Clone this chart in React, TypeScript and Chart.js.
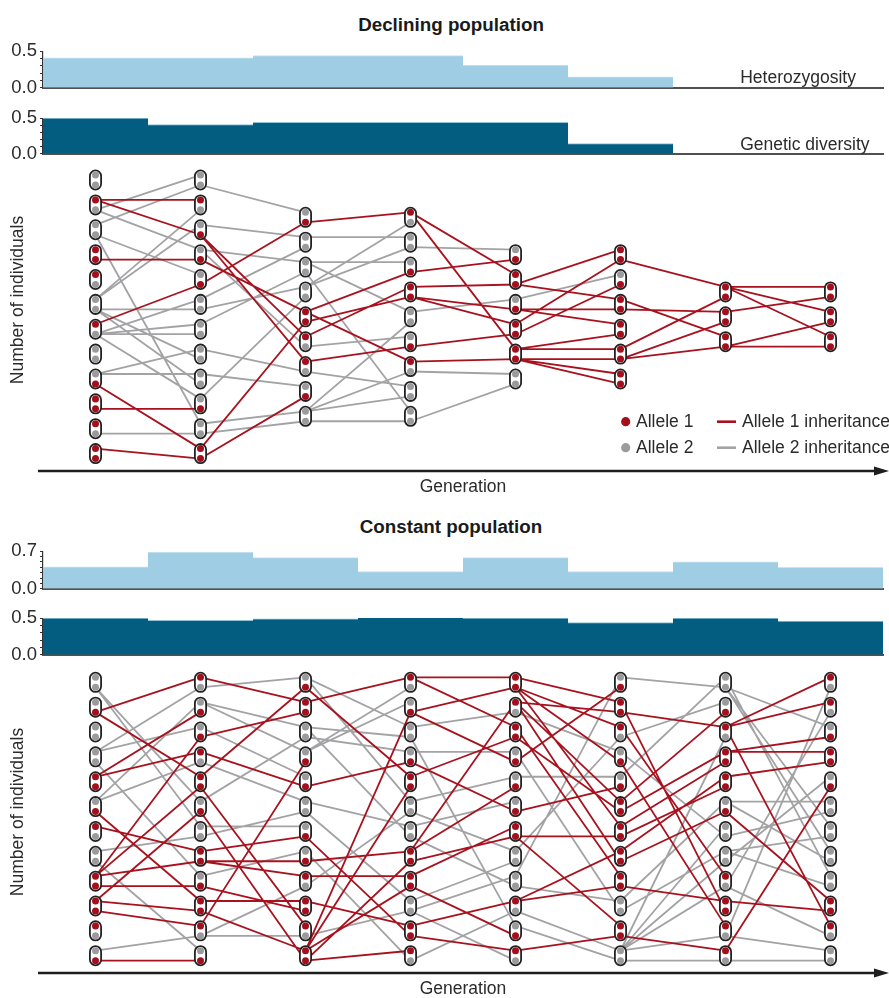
import React, { useEffect, useRef } from "react";
import { Chart, registerables } from "chart.js";

Chart.register(...registerables);

const FONT = '"Liberation Sans", Arial, Helvetica, sans-serif';
const TEXT = "#2b2b2b";
const RED = "#a30f1c";
const GREY = "#9b9b9d";
const LINE_RED = "#a8121e";
const LINE_GREY = "#a3a3a5";
const LIGHT_BLUE = "#9fcde4";
const LIGHT_EDGE = "#c6e3f1";
const DARK_BLUE = "#025d80";
const DARK_EDGE = "#8fc4db";

// ---------- data ----------
const GENERATIONS = [1, 2, 3, 4, 5, 6, 7, 8];
const PANEL_TITLES = ["Declining population", "Constant population"];
const SERIES_LABELS = ["Heterozygosity", "Genetic diversity"];
const Y_TITLE = "Number of individuals";
const X_TITLE = "Generation";
const LEGEND_LABELS = ["Allele 1", "Allele 2", "Allele 1 inheritance", "Allele 2 inheritance"];

const DECLINE_HET = [0.41, 0.41, 0.44, 0.44, 0.31, 0.15];
const DECLINE_DIV = [0.5, 0.41, 0.44, 0.44, 0.44, 0.145];
const CONST_HET = [0.41, 0.68, 0.58, 0.32, 0.58, 0.32, 0.5, 0.4];
const CONST_DIV = [0.5, 0.47, 0.49, 0.52, 0.5, 0.44, 0.5, 0.46];

const DECLINE_HET_TICKS = [0, 0.5];
const DECLINE_DIV_TICKS = [0, 0.5];
const CONST_HET_TICKS = [0, 0.7];
const CONST_DIV_TICKS = [0, 0.5];

// genotypes per generation: top allele, bottom allele ("1" = allele 1, "2" = allele 2)
const DECLINE_INDIVIDUALS = [
  ["22", "12", "22", "11", "12", "22", "12", "22", "21", "11", "12", "11"],
  ["22", "12", "21", "21", "21", "22", "22", "22", "22", "21", "22", "11"],
  ["21", "22", "22", "22", "11", "12", "12", "21", "22"],
  ["12", "22", "21", "11", "22", "21", "12", "22", "22"],
  ["21", "11", "21", "11", "11", "22"],
  ["11", "21", "11", "11", "11", "11"],
  ["11", "11", "11"],
  ["11", "11", "11"],
];
const DECLINE_ROW_START = [0, 0, 1.5, 1.5, 3, 3, 4.5, 4.5];
// for every allele of the next generation (pill 1 top, pill 1 bottom, ...): parent pill + t/b
const DECLINE_PARENTS = [
  ["2b", "3t", "2t", "6t", "6t", "2t", "2b", "4b", "3b", "7t", "7b", "6b", "7b", "7b", "9t", "6b", "9t", "6b", "7b", "10b", "3b", "11b", "9b", "12t"],
  ["1b", "5b", "3t", "6t", "4t", "7t", "6b", "10t", "4b", "12t", "3b", "4t", "3b", "8t", "9t", "12b", "11t", "11b"],
  ["1b", "4t", "2t", "4t", "3t", "5t", "6t", "5b", "3t", "9t", "6b", "7t", "5t", "9t", "7b", "9t", "3b", "9b"],
  ["2b", "3b", "1t", "4t", "5t", "4b", "4b", "6b", "1t", "7t", "7b", "9b"],
  ["2b", "4t", "3t", "4b", "2b", "3b", "3b", "5t", "5t", "5b", "5b", "5b"],
  ["1b", "5t", "3b", "5b", "3t", "5b"],
  ["1t", "2t", "1t", "3b", "1t", "3b"],
];

const CONST_INDIVIDUALS = [
  ["22", "21", "22", "22", "11", "21", "12", "22", "11", "11", "12", "21"],
  ["12", "21", "21", "12", "11", "21", "22", "11", "21", "11", "12", "21"],
  ["21", "11", "22", "21", "21", "22", "21", "21", "12", "11", "12", "11"],
  ["12", "21", "22", "21", "11", "22", "22", "11", "11", "22", "11", "12"],
  ["11", "12", "11", "21", "21", "21", "11", "22", "22", "12", "21", "12"],
  ["21", "11", "12", "21", "21", "11", "11", "11", "11", "22", "11", "22"],
  ["22", "21", "12", "11", "11", "21", "22", "22", "12", "11", "12", "12"],
  ["12", "12", "21", "11", "21", "22", "22", "22", "22", "11", "12", "22"],
];
const CONST_ROW_START = [0, 0, 0, 0, 0, 0, 0, 0];
const CONST_PARENTS = [
  ["2b", "4t", "6t", "5t", "4t", "9t", "5t", "6t", "2b", "9t", "1b", "10t", "1b", "8t", "7t", "9t", "4b", "9b", "6b", "10t", "10b", "12t", "8b", "12b"],
  ["1b", "5t", "1t", "3b", "2t", "6t", "2t", "11t", "3t", "4t", "4b", "7b", "7t", "8t", "9t", "8b", "8b", "11b", "10t", "9b", "5b", "11b", "10b", "6b"],
  ["2t", "4t", "4t", "12t", "1t", "3t", "3b", "5b", "1b", "12t", "1t", "9b", "6t", "3t", "8b", "12b", "9t", "12t", "6b", "11b", "10t", "7b", "12b", "8t"],
  ["1t", "2b", "8t", "3t", "1t", "5t", "4t", "2b", "6t", "8t", "7t", "4b", "9t", "8b", "6b", "10t", "10b", "7b", "11t", "12b", "3b", "9b", "11b", "10b"],
  ["9t", "4b", "1t", "2t", "1b", "8t", "2b", "1b", "5t", "6b", "2t", "3b", "1b", "7b", "10t", "2t", "3t", "10t", "9b", "4t", "7b", "12t", "10b", "11t"],
  ["5t", "1t", "3b", "6t", "2b", "12t", "6b", "7t", "8t", "7b", "10t", "8b", "12t", "4t", "10b", "12t", "3t", "12t", "9b", "2t", "4b", "12t", "11b", "12b"],
  ["3t", "11b", "3t", "9b", "1b", "4t", "4t", "5t", "8b", "12t", "6t", "7b", "1b", "8t", "1b", "6t", "1t", "8t", "6b", "10t", "3t", "9b", "11b", "12b"],
];

// ---------- helpers ----------
const W = 889;
const DOT_OFF = 0.2;
const PILL_HALF = 0.161;

type Pt = { x: number; y: number | null };

function ChartBox({ top, height, make }: { top: number; height: number; make: () => any }) {
  const ref = useRef<HTMLCanvasElement | null>(null);
  useEffect(() => {
    if (!ref.current) return;
    const chart = new Chart(ref.current, make());
    return () => chart.destroy();
  }, []);
  return (
    <canvas
      ref={ref}
      width={W}
      height={height}
      style={{ position: "absolute", left: 0, top, width: W, height, display: "block" }}
    />
  );
}

function barConfig(values: number[], ticks: number[], fill: string, edge: string, label: string | null, labelDy: number) {
  const max = ticks[ticks.length - 1];
  return {
    type: "bar",
    data: {
      datasets: [
        {
          data: values.map((v, i) => ({ x: GENERATIONS[i], y: v })),
          backgroundColor: fill,
          borderColor: edge,
          borderWidth: { top: 1, right: 0, bottom: 0, left: 0 },
          borderSkipped: "bottom",
          barPercentage: 1,
          categoryPercentage: 1,
        },
      ],
    },
    options: {
      responsive: false,
      animation: false,
      devicePixelRatio: 1,
      events: [],
      layout: { padding: { top: 12, bottom: 12, left: 0, right: 6 } },
      plugins: { legend: { display: false }, tooltip: { enabled: false }, title: { display: false } },
      scales: {
        x: {
          type: "linear",
          min: 0.5,
          max: 8.5,
          offset: false,
          afterBuildTicks: (s: any) => {
            s.ticks = GENERATIONS.map((v) => ({ value: v }));
          },
          afterFit: (s: any) => {
            s.height = 0;
          },
          ticks: { display: false },
          grid: { display: false, drawTicks: false },
          border: { display: true, color: "#505050", width: 2 },
        },
        y: {
          min: 0,
          max,
          afterFit: (s: any) => {
            s.width = 43;
          },
          ticks: {
            stepSize: 0.1,
            autoSkip: false,
            padding: 3,
            color: TEXT,
            font: { family: FONT, size: 18.5 },
            callback: (v: any) => (ticks.some((t) => Math.abs(t - Number(v)) < 1e-6) ? Number(v).toFixed(1) : ""),
          },
          grid: { display: true, drawOnChartArea: false, drawTicks: true, tickLength: 3, color: "#333", lineWidth: 1 },
          border: { display: true, color: "#333", width: 1.2 },
        },
      },
    },
    plugins: [
      {
        id: "seriesLabel",
        afterDraw(chart: any) {
          if (!label) return;
          const ctx = chart.ctx;
          ctx.save();
          ctx.font = `17.5px ${FONT}`;
          ctx.fillStyle = TEXT;
          ctx.textAlign = "left";
          ctx.textBaseline = "middle";
          ctx.fillText(label, chart.scales.x.getPixelForValue(7.14), chart.chartArea.bottom + labelDy);
          ctx.restore();
        },
      },
    ],
  };
}

function alleleY(start: number, pill: number, side: number) {
  return start + pill + (side ? DOT_OFF : -DOT_OFF);
}

function networkConfig(
  individuals: string[][],
  rowStart: number[],
  parents: string[][],
  o: { padTop: number; xAxisHeight: number; xTitlePad: number; yTitleY: number; legend: boolean }
) {
  const dots: Pt[] = [];
  const dotColors: string[] = [];
  const pills: Pt[] = [];
  const redLinks: Pt[] = [];
  const greyLinks: Pt[] = [];

  individuals.forEach((col, gi) => {
    const x = GENERATIONS[gi];
    col.forEach((geno, pi) => {
      const r = rowStart[gi] + pi;
      pills.push({ x, y: r - PILL_HALF }, { x, y: r + PILL_HALF }, { x, y: null });
      [0, 1].forEach((side) => {
        dots.push({ x, y: alleleY(rowStart[gi], pi, side) });
        dotColors.push(geno[side] === "1" ? RED : GREY);
      });
    });
  });

  parents.forEach((gap, gi) => {
    gap.forEach((ref, di) => {
      const childPill = Math.floor(di / 2);
      const childSide = di % 2;
      const parentPill = parseInt(ref, 10) - 1;
      const parentSide = ref.endsWith("b") ? 1 : 0;
      const allele = individuals[gi + 1][childPill][childSide];
      const seg: Pt[] = [
        { x: GENERATIONS[gi], y: alleleY(rowStart[gi], parentPill, parentSide) },
        { x: GENERATIONS[gi + 1], y: alleleY(rowStart[gi + 1], childPill, childSide) },
        { x: GENERATIONS[gi + 1], y: null },
      ];
      (allele === "1" ? redLinks : greyLinks).push(...seg);
    });
  });

  const base = { pointRadius: 0, pointHoverRadius: 0, clip: false, spanGaps: false, tension: 0, fill: false };

  return {
    type: "line",
    data: {
      datasets: [
        {
          data: dots,
          showLine: false,
          pointRadius: 3.5,
          pointHoverRadius: 3.5,
          pointBackgroundColor: dotColors,
          pointBorderWidth: 0,
          pointBorderColor: "rgba(0,0,0,0)",
          clip: false,
          order: 0,
        },
        { ...base, data: pills, borderColor: "#ffffff", borderWidth: 9.4, borderCapStyle: "round", order: 1 },
        { ...base, data: pills, borderColor: "#222222", borderWidth: 13, borderCapStyle: "round", order: 2 },
        { ...base, data: redLinks, borderColor: LINE_RED, borderWidth: 1.8, order: 3 },
        { ...base, data: greyLinks, borderColor: LINE_GREY, borderWidth: 1.8, order: 4 },
      ],
    },
    options: {
      responsive: false,
      animation: false,
      devicePixelRatio: 1,
      events: [],
      layout: { padding: { top: o.padTop, bottom: 0, left: 0, right: 6 } },
      plugins: { legend: { display: false }, tooltip: { enabled: false }, title: { display: false } },
      scales: {
        x: {
          type: "linear",
          min: 0.5,
          max: 8.5,
          afterFit: (s: any) => {
            s.height = o.xAxisHeight;
          },
          ticks: { display: false },
          grid: { display: false },
          border: { display: false },
          title: {
            display: true,
            text: X_TITLE,
            color: TEXT,
            font: { family: FONT, size: 17.5, lineHeight: 1 },
            padding: { top: 0, bottom: o.xTitlePad },
          },
        },
        y: {
          type: "linear",
          reverse: true,
          min: -0.6,
          max: 11.7,
          afterFit: (s: any) => {
            s.width = 43;
          },
          ticks: { display: false },
          grid: { display: false },
          border: { display: false },
        },
      },
    },
    plugins: [
      {
        id: "networkDecor",
        afterDraw(chart: any) {
          const ctx = chart.ctx;
          const a = chart.chartArea;
          const y = a.bottom;
          ctx.save();
          ctx.strokeStyle = "#1e1e1e";
          ctx.fillStyle = "#1e1e1e";
          ctx.lineWidth = 2.5;
          ctx.beginPath();
          ctx.moveTo(38, y);
          ctx.lineTo(878, y);
          ctx.stroke();
          ctx.beginPath();
          ctx.moveTo(889, y);
          ctx.lineTo(874, y - 4.5);
          ctx.lineTo(874, y + 4.5);
          ctx.closePath();
          ctx.fill();

          ctx.save();
          ctx.translate(18, o.yTitleY);
          ctx.rotate(-Math.PI / 2);
          ctx.font = `17.5px ${FONT}`;
          ctx.fillStyle = TEXT;
          ctx.textAlign = "center";
          ctx.textBaseline = "middle";
          ctx.fillText(Y_TITLE, 0, 0);
          ctx.restore();

          if (o.legend) {
            const rows = [261.7, 287.7];
            ctx.font = `17.5px ${FONT}`;
            ctx.textAlign = "left";
            ctx.textBaseline = "middle";
            rows.forEach((ry, i) => {
              const c = i === 0 ? RED : GREY;
              ctx.fillStyle = c;
              ctx.beginPath();
              ctx.arc(625.7, ry, 4.6, 0, Math.PI * 2);
              ctx.fill();
              ctx.fillStyle = TEXT;
              ctx.fillText(LEGEND_LABELS[i], 636, ry + 0.5);
              ctx.strokeStyle = i === 0 ? LINE_RED : LINE_GREY;
              ctx.lineWidth = 2.6;
              ctx.beginPath();
              ctx.moveTo(717, ry);
              ctx.lineTo(736, ry);
              ctx.stroke();
              ctx.fillStyle = TEXT;
              ctx.fillText(LEGEND_LABELS[i + 2], 742, ry + 0.5);
            });
          }
          ctx.restore();
        },
      },
    ],
  };
}

function PanelTitle({ text, top }: { text: string; top: number }) {
  return (
    <div
      style={{
        position: "absolute",
        left: 0,
        top,
        width: 902,
        textAlign: "center",
        fontFamily: FONT,
        fontWeight: 700,
        fontSize: "18.8px",
        lineHeight: "22px",
        color: "#1a1a1a",
        whiteSpace: "nowrap",
      }}
    >
      {text}
    </div>
  );
}

export default function App() {
  return (
    <div
      style={{
        position: "absolute",
        left: 0,
        top: 0,
        width: W,
        height: 998,
        overflow: "hidden",
        background: "#ffffff",
      }}
    >
      <PanelTitle text={PANEL_TITLES[0]} top={14} />
      <ChartBox
        top={37}
        height={65}
        make={() => barConfig(DECLINE_HET, DECLINE_HET_TICKS, LIGHT_BLUE, LIGHT_EDGE, SERIES_LABELS[0], -9.5)}
      />
      <ChartBox
        top={104}
        height={64}
        make={() => barConfig(DECLINE_DIV, DECLINE_DIV_TICKS, DARK_BLUE, DARK_EDGE, SERIES_LABELS[1], -9)}
      />
      <ChartBox
        top={160}
        height={341}
        make={() =>
          networkConfig(DECLINE_INDIVIDUALS, DECLINE_ROW_START, DECLINE_PARENTS, {
            padTop: 5.1,
            xAxisHeight: 30,
            xTitlePad: 5.3,
            yTitleY: 140,
            legend: true,
          })
        }
      />
      <PanelTitle text={PANEL_TITLES[1]} top={515.7} />
      <ChartBox
        top={537}
        height={66}
        make={() => barConfig(CONST_HET, CONST_HET_TICKS, LIGHT_BLUE, LIGHT_EDGE, null, 0)}
      />
      <ChartBox
        top={604}
        height={65}
        make={() => barConfig(CONST_DIV, CONST_DIV_TICKS, DARK_BLUE, DARK_EDGE, null, 0)}
      />
      <ChartBox
        top={662}
        height={336}
        make={() =>
          networkConfig(CONST_INDIVIDUALS, CONST_ROW_START, CONST_PARENTS, {
            padTop: 5.4,
            xAxisHeight: 24.9,
            xTitlePad: 0,
            yTitleY: 150,
            legend: false,
          })
        }
      />
    </div>
  );
}
